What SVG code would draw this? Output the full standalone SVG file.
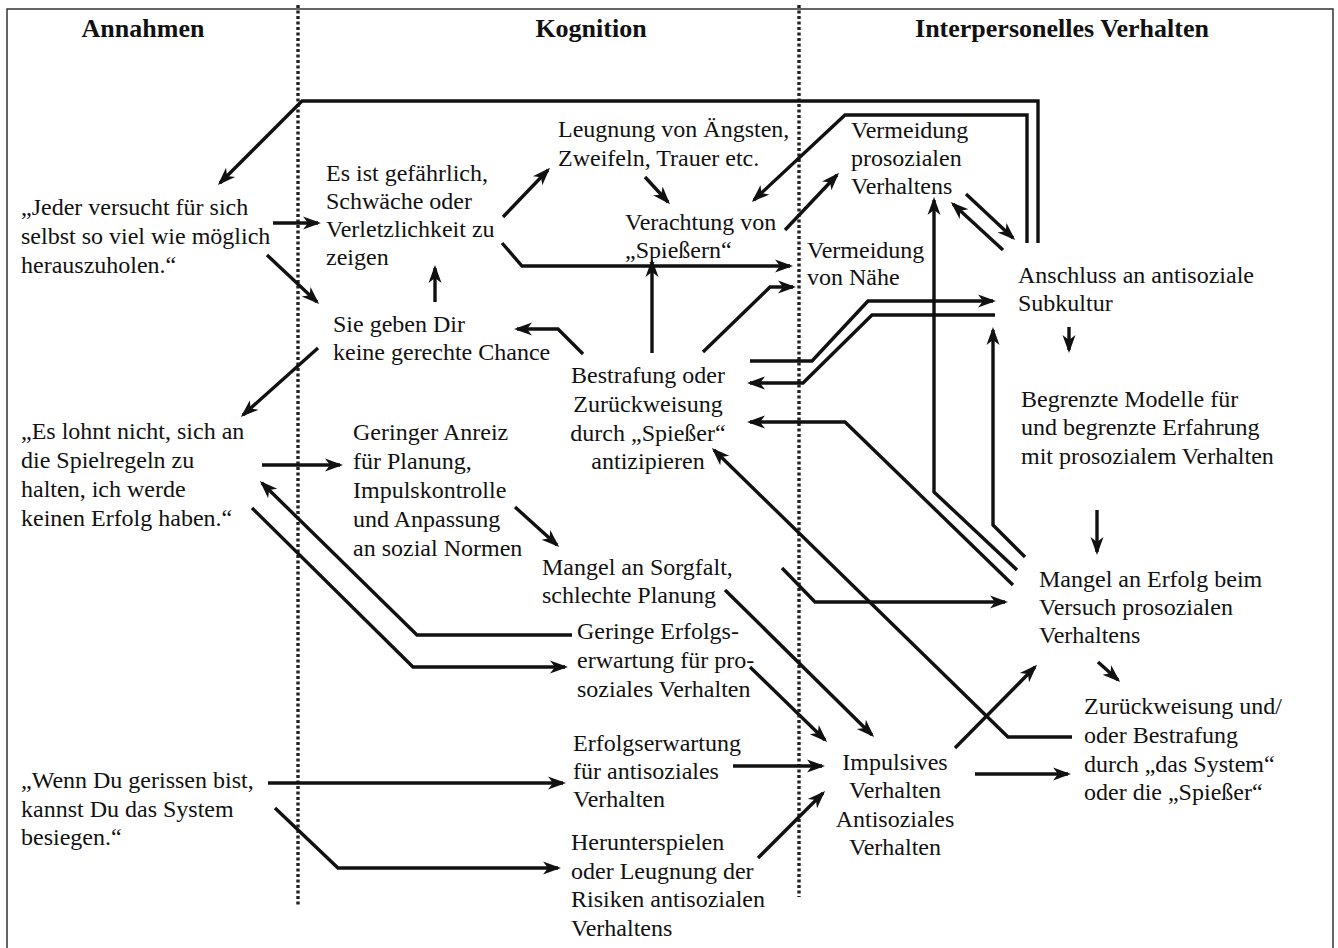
<svg xmlns="http://www.w3.org/2000/svg" width="1338" height="948" viewBox="0 0 1338 948">
<style>
text{fill:#111;}
.h{font-size:26px;font-weight:bold;text-anchor:middle;}
.t{font-size:24px;}
.c{text-anchor:middle;}
.ln{fill:none;stroke:#111;stroke-width:3.4;stroke-linejoin:miter;}
.a{marker-end:url(#ah);}
.dot{fill:none;stroke:#222;stroke-width:3.4;stroke-dasharray:3 2.5;}
</style>
<defs>
<marker id="ah" markerUnits="userSpaceOnUse" markerWidth="19" markerHeight="15" refX="15" refY="7.5" orient="auto">
<path d="M0,1 L18,7.5 L0,14 L5,7.5 z" fill="#111"/>
</marker>
</defs>
<rect x="0" y="0" width="1338" height="948" fill="#fff"/>
<rect x="7" y="9" width="1326" height="950" fill="none" stroke="#333" stroke-width="1.5"/>
<g id="dividers">
<line class="dot" x1="298" y1="5" x2="298" y2="907"/>
<line class="dot" x1="799" y1="5" x2="799" y2="897"/>
</g>
<g font-family="'Liberation Serif', 'Times New Roman', 'DejaVu Serif', serif">
<g id="headers">
<text class="h" x="143" y="37">Annahmen</text>
<text class="h" x="591" y="37">Kognition</text>
<text class="h" x="1062" y="37">Interpersonelles Verhalten</text>
</g>
<g id="n-jeder"><text class="t" x="21" y="215">„Jeder versucht für sich</text><text class="t" x="21" y="244">selbst so viel wie möglich</text><text class="t" x="21" y="273">herauszuholen.“</text></g>
<g id="n-gefaehrlich"><text class="t" x="326" y="181">Es ist gefährlich,</text><text class="t" x="326" y="209">Schwäche oder</text><text class="t" x="326" y="237">Verletzlichkeit zu</text><text class="t" x="326" y="265">zeigen</text></g>
<g id="n-chance"><text class="t" x="333" y="332">Sie geben Dir</text><text class="t" x="333" y="360">keine gerechte Chance</text></g>
<g id="n-lohnt"><text class="t" x="21" y="439">„Es lohnt nicht, sich an</text><text class="t" x="21" y="468">die Spielregeln zu</text><text class="t" x="21" y="497">halten, ich werde</text><text class="t" x="21" y="526">keinen Erfolg haben.“</text></g>
<g id="n-anreiz"><text class="t" x="353" y="440">Geringer Anreiz</text><text class="t" x="353" y="469">für Planung,</text><text class="t" x="353" y="498">Impulskontrolle</text><text class="t" x="353" y="527">und Anpassung</text><text class="t" x="353" y="556">an sozial Normen</text></g>
<g id="n-leugnung"><text class="t" x="558" y="137">Leugnung von Ängsten,</text><text class="t" x="558" y="166">Zweifeln, Trauer etc.</text></g>
<g id="n-verachtung"><text class="t" x="625" y="230">Verachtung von</text><text class="t" x="625" y="258">„Spießern“</text></g>
<g id="n-vermeidung-pro"><text class="t" x="851" y="138">Vermeidung</text><text class="t" x="851" y="166">prosozialen</text><text class="t" x="851" y="194">Verhaltens</text></g>
<g id="n-vermeidung-naehe"><text class="t" x="807" y="258">Vermeidung</text><text class="t" x="807" y="285">von Nähe</text></g>
<g id="n-anschluss"><text class="t" x="1018" y="283">Anschluss an antisoziale</text><text class="t" x="1018" y="311">Subkultur</text></g>
<g id="n-bestrafung"><text class="t c" x="648" y="383">Bestrafung oder</text><text class="t c" x="648" y="412">Zurückweisung</text><text class="t c" x="648" y="441">durch „Spießer“</text><text class="t c" x="648" y="469">antizipieren</text></g>
<g id="n-begrenzte"><text class="t" x="1021" y="407">Begrenzte Modelle für</text><text class="t" x="1021" y="435">und begrenzte Erfahrung</text><text class="t" x="1021" y="464">mit prosozialem Verhalten</text></g>
<g id="n-sorgfalt"><text class="t" x="542" y="575">Mangel an Sorgfalt,</text><text class="t" x="542" y="603">schlechte Planung</text></g>
<g id="n-mangel-erfolg"><text class="t" x="1039" y="587">Mangel an Erfolg beim</text><text class="t" x="1039" y="615">Versuch prosozialen</text><text class="t" x="1039" y="643">Verhaltens</text></g>
<g id="n-geringe"><text class="t" x="577" y="639">Geringe Erfolgs-</text><text class="t" x="577" y="668">erwartung für pro-</text><text class="t" x="577" y="697">soziales Verhalten</text></g>
<g id="n-erfolgserwartung"><text class="t" x="573" y="751">Erfolgserwartung</text><text class="t" x="573" y="779">für antisoziales</text><text class="t" x="573" y="807">Verhalten</text></g>
<g id="n-herunterspielen"><text class="t" x="571" y="850">Herunterspielen</text><text class="t" x="571" y="879">oder Leugnung der</text><text class="t" x="571" y="907">Risiken antisozialen</text><text class="t" x="571" y="936">Verhaltens</text></g>
<g id="n-impulsiv"><text class="t c" x="895" y="770">Impulsives</text><text class="t c" x="895" y="798">Verhalten</text><text class="t c" x="895" y="827">Antisoziales</text><text class="t c" x="895" y="855">Verhalten</text></g>
<g id="n-zurueckweisung"><text class="t" x="1084" y="714">Zurückweisung und/</text><text class="t" x="1084" y="743">oder Bestrafung</text><text class="t" x="1084" y="772">durch „das System“</text><text class="t" x="1084" y="800">oder die „Spießer“</text></g>
<g id="n-gerissen"><text class="t" x="21" y="788">„Wenn Du gerissen bist,</text><text class="t" x="21" y="817">kannst Du das System</text><text class="t" x="21" y="845">besiegen.“</text></g>
</g>
<g id="connectors">
<path class="ln a" d="M1027,243 V115 H845 L754,200"/>
<path class="ln a" d="M1038,243 V101 H302 L220,183"/>
<path class="ln a" d="M966,194 L1013,238"/>
<path class="ln a" d="M1003,250 L953,204"/>
<path class="ln a" d="M1017,570 L934,492 V200"/>
<path class="ln a" d="M1025,557 L993,525 V330"/>
<path class="ln a" d="M1013,585 L845,422 H750"/>
<path class="ln a" d="M1072,737 H1008 L714,450"/>
<path class="ln a" d="M955,748 L1035,667"/>
<path class="ln a" d="M975,774 H1068"/>
<path class="ln a" d="M1098,662 L1118,680"/>
<path class="ln a" d="M1097,510 V552"/>
<path class="ln a" d="M1069,327 V350"/>
<path class="ln a" d="M750,361 H812 L868,301 H993"/>
<path class="ln a" d="M995,315 H872 L803,383 H750"/>
<path class="ln a" d="M703,352 L770,287 H793"/>
<path class="ln a" d="M502,243 L522,266 H790"/>
<path class="ln a" d="M503,217 L548,170"/>
<path class="ln a" d="M645,177 L668,202"/>
<path class="ln a" d="M785,230 L837,175"/>
<path class="ln a" d="M652,353 V262"/>
<path class="ln a" d="M583,354 L558,329 H517"/>
<path class="ln a" d="M435,302 V268"/>
<path class="ln a" d="M273,223 H318"/>
<path class="ln a" d="M267,255 L317,302"/>
<path class="ln a" d="M318,348 L243,415"/>
<path class="ln a" d="M262,465 H340"/>
<path class="ln a" d="M572,635 H417 L262,483"/>
<path class="ln a" d="M252,508 L413,667 H565"/>
<path class="ln a" d="M515,507 L557,545"/>
<path class="ln a" d="M725,590 L872,735"/>
<path class="ln a" d="M750,667 L825,740"/>
<path class="ln a" d="M733,766 H822"/>
<path class="ln a" d="M758,858 L823,793"/>
<path class="ln a" d="M268,783 H563"/>
<path class="ln a" d="M275,808 L338,868 H558"/>
<path class="ln a" d="M782,568 L815,602 H1005"/>
</g>
</svg>
